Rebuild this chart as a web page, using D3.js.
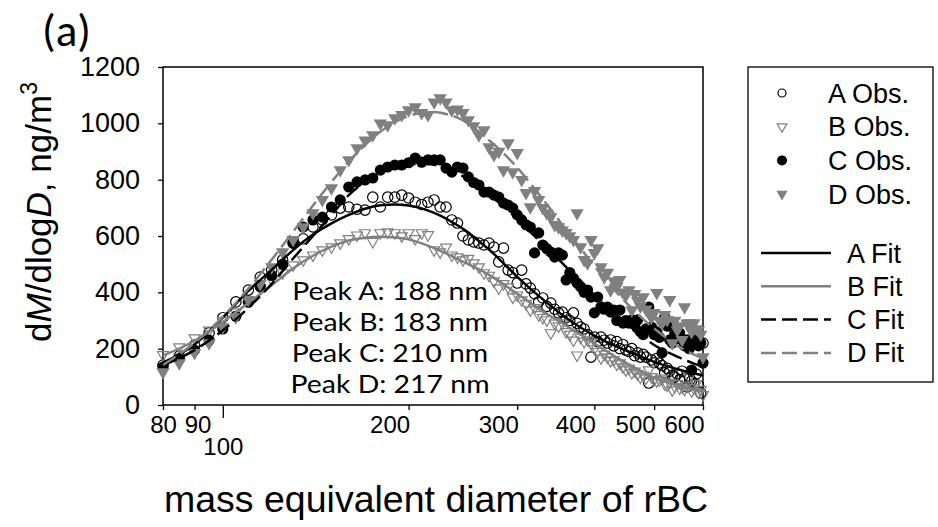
<!DOCTYPE html>
<html>
<head>
<meta charset="utf-8">
<script src="https://cdn.jsdelivr.net/npm/d3@7/dist/d3.min.js"></script>
<style>
  body { margin: 0; background: #fff; }
</style>
</head>
<body>
<svg id="chart" width="938" height="527"></svg>
<script>
(function () {
	"use strict";

	var arial = "'Liberation Sans', Arial, Helvetica, sans-serif";
	var calibri = "Carlito, Lato, 'Open Sans', sans-serif";

	// size bins (nm) of the observations
	var diam = [80, 85, 90, 95, 100, 105, 110, 115, 120, 125,
		130, 135, 140, 145, 150, 155, 160, 165, 170, 175,
		180, 185, 190, 195, 200, 205, 210, 215, 220, 225,
		230, 235, 240, 245, 250, 255, 260, 265, 270, 275,
		280, 285, 290, 295, 300, 305, 310, 315, 320, 325,
		330, 335, 340, 345, 350, 355, 360, 365, 370, 375,
		380, 385, 390, 395, 400, 405, 410, 415, 420, 425,
		430, 435, 440, 445, 450, 455, 460, 465, 470, 475,
		480, 485, 490, 495, 500, 505, 510, 515, 520, 525,
		530, 535, 540, 545, 550, 555, 560, 565, 570, 575,
		580, 585, 590, 595, 600];

	var obsA = [142, 174, 213, 256, 310, 366, 408, 454, 480, 515,
		575, 590, 632, 657, 675, 699, 703, 695, 692, 738,
		703, 738, 738, 745, 735, 720, 712, 720, 728, 703,
		703, 657, 646, 600, 586, 579, 575, 568, 575, 561,
		508, 557, 479, 470, 433, 479, 430, 415, 395, 366,
		380, 350, 362, 340, 327, 330, 310, 300, 327, 290,
		277, 270, 250, 170, 241, 225, 241, 230, 220, 231,
		210, 225, 200, 215, 195, 190, 200, 175, 185, 170,
		180, 170, 78, 160, 150, 165, 149, 140, 114, 130,
		120, 105, 99, 110, 90, 120, 95, 64, 100, 85,
		75, 110, 70, 43, 220];

	var obsB = [178, 206, 238, 265, 300, 330, 370, 415, 445, 469,
		497, 515, 532, 550, 561, 575, 590, 603, 611, 580,
		611, 614, 611, 600, 611, 590, 611, 604, 550, 543,
		560, 532, 525, 515, 520, 504, 490, 469, 460, 440,
		415, 430, 419, 383, 390, 373, 360, 337, 345, 320,
		310, 302, 256, 290, 280, 291, 260, 250, 230, 177,
		240, 225, 231, 220, 200, 190, 167, 180, 170, 157,
		160, 145, 149, 135, 124, 130, 115, 120, 110, 99,
		105, 95, 124, 100, 90, 85, 89, 95, 75, 70,
		80, 53, 65, 75, 60, 64, 55, 70, 99, 50,
		60, 75, 45, 55, 36];

	var obsC = [135, 165, 195, 230, 270, 315, 365, 420, 460, 500,
		575, 632, 657, 667, 703, 728, 774, 792, 799, 806,
		834, 845, 852, 852, 860, 877, 862, 870, 870, 870,
		841, 827, 845, 841, 810, 790, 781, 756, 756, 745,
		738, 717, 710, 699, 675, 657, 640, 632, 540, 611,
		568, 555, 543, 525, 540, 532, 444, 470, 450, 433,
		420, 400, 408, 383, 327, 383, 348, 340, 348, 330,
		337, 300, 337, 291, 300, 291, 302, 285, 302, 260,
		250, 270, 348, 277, 250, 260, 240, 185, 312, 280,
		231, 220, 256, 240, 256, 231, 210, 231, 200, 124,
		220, 241, 210, 220, 149];

	var obsD = [117, 149, 185, 220, 277, 312, 373, 430, 490, 543,
		586, 632, 681, 728, 770, 834, 870, 912, 940, 958,
		1000, 994, 1019, 1030, 1047, 1058, 1037, 1030, 1075, 1090,
		1075, 1047, 1050, 1037, 1012, 990, 958, 976, 916, 888,
		900, 834, 930, 827, 895, 799, 753, 703, 760, 728,
		700, 681, 667, 640, 632, 620, 611, 600, 586, 681,
		561, 515, 504, 586, 540, 557, 490, 454, 470, 408,
		440, 420, 444, 400, 390, 408, 337, 395, 370, 350,
		383, 340, 327, 310, 327, 398, 300, 290, 320, 302,
		373, 220, 300, 266, 280, 231, 348, 290, 291, 260,
		291, 270, 266, 250, 170];

	// fitted curves, read at these diameters
	var fitDiam = [80, 90, 100, 110, 120, 130, 140, 150, 160, 170,
		180, 190, 200, 210, 220, 230, 240, 250, 260, 270,
		280, 300, 320, 340, 360, 380, 400, 420, 440, 460,
		480, 500, 550, 600];
	var fitA = [150, 215, 310, 405, 480, 550, 605, 645, 675, 697,
		709, 712, 708, 698, 682, 662, 638, 612, 582, 552,
		520, 455, 400, 352, 310, 275, 246, 222, 203, 185,
		168, 153, 125, 105];
	var fitB = [175, 228, 295, 362, 425, 485, 530, 562, 584, 594,
		597, 595, 588, 574, 557, 538, 518, 500, 482, 462,
		440, 395, 352, 315, 282, 250, 218, 189, 162, 138,
		116, 97, 68, 46];
	var fitC = [140, 195, 265, 345, 430, 520, 600, 675, 745, 792,
		824, 843, 853, 857, 853, 841, 823, 801, 776, 748,
		720, 660, 600, 545, 490, 440, 390, 345, 305, 270,
		240, 213, 168, 135];
	var fitD = [142, 221, 313, 413, 516, 615, 708, 792, 864, 923,
		970, 1004, 1026, 1037, 1040, 1033, 1020, 999, 970, 940,
		910, 843, 768, 694, 622, 556, 493, 437, 387, 343,
		305, 272, 205, 165];

	var xTicks = [80, 90, 100, 200, 300, 400, 500, 600];
	var yTicks = [0, 200, 400, 600, 800, 1000, 1200];
	var peakLabels = ["Peak A: 188 nm", "Peak B: 183 nm", "Peak C: 210 nm", "Peak D: 217 nm"];

	var grey = "#808080";

	var svg = d3.select("#chart");

	var x = d3.scaleLog().domain([80, 600]).range([163, 703]);
	var y = d3.scaleLinear().domain([0, 1200]).range([405, 67]);

	// frame
	svg.append("rect")
		.attr("x", 163).attr("y", 67)
		.attr("width", 540).attr("height", 338)
		.attr("fill", "none").attr("stroke", "#000").attr("stroke-width", 1.5);

	// y axis
	var yAxis = svg.append("g")
		.attr("transform", "translate(163,0)")
		.call(d3.axisLeft(y).tickValues(yTicks).tickFormat(d3.format("d"))
			.tickSize(5).tickPadding(18).tickSizeOuter(0));
	yAxis.select(".domain").remove();
	yAxis.selectAll("text").style("font-family", arial).style("font-size", "27px").attr("fill", "#000");

	// x axis (labels of the major ticks sit left of the tick, as in the original)
	var xAxis = svg.append("g")
		.attr("transform", "translate(0,405)")
		.call(d3.axisBottom(x).tickValues(xTicks).tickFormat(d3.format("d")).tickSize(5).tickSizeOuter(0));
	xAxis.select(".domain").remove();
	xAxis.selectAll("text")
		.style("font-family", arial).style("font-size", "24px").attr("fill", "#000")
		.attr("dy", null)
		.attr("x", (d) => d < 150 ? (d === 90 ? 3 : 0) : -19)
		.attr("y", (d) => d === 100 ? 50 : 28);
	xAxis.selectAll(".tick line").attr("y2", (d) => d === 100 ? 13 : 5);
	svg.selectAll(".tick line").attr("stroke-width", 1.3);

	// observations
	function pts(arr) {
		return arr.map((v, i) => ({ d: diam[i], v: v }));
	}
	var tri = d3.symbol().type(d3.symbolTriangle);

	var gObs = svg.append("g");
	gObs.selectAll(".a").data(pts(obsA)).enter().append("circle")
		.attr("cx", (p) => x(p.d)).attr("cy", (p) => y(p.v)).attr("r", 5.2)
		.attr("fill", "none").attr("stroke", "#000").attr("stroke-width", 1.2);
	gObs.selectAll(".b").data(pts(obsB)).enter().append("path")
		.attr("d", tri.size(52)())
		.attr("transform", (p) => "translate(" + x(p.d) + "," + y(p.v) + ") rotate(180)")
		.attr("fill", "none").attr("stroke", grey).attr("stroke-width", 1.2);
	gObs.selectAll(".c").data(pts(obsC)).enter().append("circle")
		.attr("cx", (p) => x(p.d)).attr("cy", (p) => y(p.v)).attr("r", 5.6)
		.attr("fill", "#000");
	gObs.selectAll(".d").data(pts(obsD)).enter().append("path")
		.attr("d", tri.size(76)())
		.attr("transform", (p) => "translate(" + x(p.d) + "," + y(p.v) + ") rotate(180)")
		.attr("fill", grey);

	// fits
	var line = d3.line()
		.x((p) => x(p.d))
		.y((p) => y(p.v))
		.curve(d3.curveMonotoneX);
	function fitPts(arr) {
		return arr.map((v, i) => ({ d: fitDiam[i], v: v }));
	}
	var fits = [
		{ data: fitA, color: "#000", dash: null },
		{ data: fitB, color: grey, dash: null },
		{ data: fitC, color: "#000", dash: "15,6" },
		{ data: fitD, color: grey, dash: "15,6" }
	];
	fits.forEach(function (f) {
		svg.append("path")
			.attr("d", line(fitPts(f.data)))
			.attr("fill", "none")
			.attr("stroke", f.color)
			.attr("stroke-width", 2.5)
			.attr("stroke-dasharray", f.dash);
	});

	// peak labels: tight line spacing, so a compact font widened a little
	svg.append("g").selectAll("text").data(peakLabels).enter().append("text")
		.attr("transform", (d, i) => "translate(390," + (300 + i * 31) + ") scale(1.11,1)")
		.attr("text-anchor", "middle")
		.style("font-family", "Lato, sans-serif").style("font-size", "25.6px")
		.text((d) => d);

	// panel label
	svg.append("text")
		.attr("x", 42).attr("y", 46)
		.style("font-family", calibri).style("font-size", "45px")
		.text("(a)");

	// axis titles
	svg.append("text")
		.attr("x", 436).attr("y", 512)
		.attr("text-anchor", "middle")
		.style("font-family", arial).style("font-size", "37.5px")
		.text("mass equivalent diameter of rBC");

	var yt = svg.append("text")
		.attr("transform", "translate(51,212) rotate(-90)")
		.attr("text-anchor", "middle")
		.style("font-family", arial).style("font-size", "35px");
	yt.append("tspan").text("d");
	yt.append("tspan").style("font-style", "italic").text("M");
	yt.append("tspan").text("/dlog");
	yt.append("tspan").style("font-style", "italic").text("D");
	yt.append("tspan").text(", ng/m");
	yt.append("tspan").attr("dy", -14).style("font-size", "23px").text("3");

	// legend
	var lg = svg.append("g");
	lg.append("rect")
		.attr("x", 748).attr("y", 67).attr("width", 185).attr("height", 315)
		.attr("fill", "none").attr("stroke", "#000").attr("stroke-width", 1.3);

	var obsLegend = ["A Obs.", "B Obs.", "C Obs.", "D Obs."];
	obsLegend.forEach(function (name, i) {
		var cy = 93 + i * 33.7;
		if (i === 0) {
			lg.append("circle").attr("cx", 782).attr("cy", cy).attr("r", 4)
				.attr("fill", "none").attr("stroke", "#000").attr("stroke-width", 1.2);
		} else if (i === 1) {
			lg.append("path").attr("d", tri.size(40)())
				.attr("transform", "translate(782," + cy + ") rotate(180)")
				.attr("fill", "none").attr("stroke", grey).attr("stroke-width", 1.2);
		} else if (i === 2) {
			lg.append("circle").attr("cx", 782).attr("cy", cy).attr("r", 5)
				.attr("fill", "#000");
		} else {
			lg.append("path").attr("d", tri.size(55)())
				.attr("transform", "translate(782," + cy + ") rotate(180)")
				.attr("fill", grey);
		}
		lg.append("text").attr("x", 828).attr("y", cy + 9.5)
			.style("font-family", arial).style("font-size", "27px").text(name);
	});

	var fitLegend = ["A Fit", "B Fit", "C Fit", "D Fit"];
	fitLegend.forEach(function (name, i) {
		var ly = 253 + i * 33.3;
		lg.append("line")
			.attr("x1", 761).attr("x2", 831).attr("y1", ly).attr("y2", ly)
			.attr("stroke", fits[i].color).attr("stroke-width", 2.5)
			.attr("stroke-dasharray", fits[i].dash);
		lg.append("text").attr("x", 847).attr("y", ly + 9.5)
			.style("font-family", arial).style("font-size", "27px").text(name);
	});
})();
</script>
</body>
</html>
